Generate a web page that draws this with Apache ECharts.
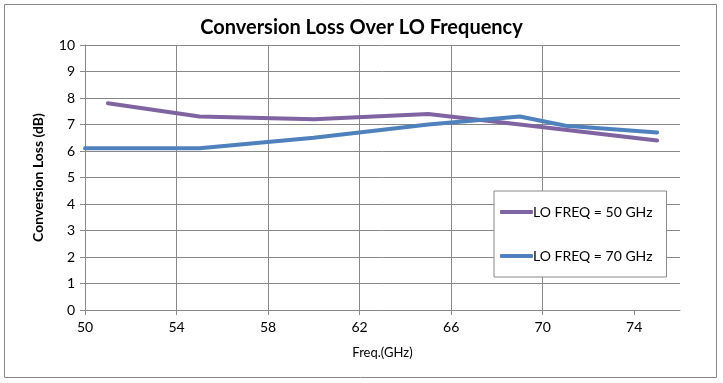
<!DOCTYPE html>
<html><head><meta charset="utf-8">
<script src="https://cdn.jsdelivr.net/npm/echarts@6/dist/echarts.min.js"></script>
<style>html,body{margin:0;padding:0;background:#fff}#c{width:723px;height:383px}</style>
</head><body><div id="c"></div>
<script>
const title = 'Conversion Loss Over LO Frequency';
const xName = 'Freq.(GHz)';
const yName = 'Conversion Loss (dB)';
const seriesNames = ['LO FREQ = 50 GHz', 'LO FREQ = 70 GHz'];
const xTicks = [50, 54, 58, 62, 66, 70, 74];
const freq50 = [51, 55, 60, 65, 69, 75];
const loss50 = [7.8, 7.3, 7.2, 7.4, 7.0, 6.4];
const freq70 = [50, 55, 60, 65, 69, 71, 75];
const loss70 = [6.1, 6.1, 6.5, 7.0, 7.3, 6.95, 6.7];
const colors = ['#8064A2', '#4F81BD'];
const FONT = 'Lato';

const chart = echarts.init(document.getElementById('c'), null, {renderer: 'canvas'});
chart.setOption({
  animation: false,
  title: {text: title, left: 'center', top: 13,
    textStyle: {fontFamily: FONT, fontSize: 20, fontWeight: 'bold', color: '#000'}},
  graphic: [{type: 'rect', shape: {x: 4.5, y: 4.5, width: 712, height: 373},
    style: {fill: null, stroke: '#888', lineWidth: 1}, silent: true}],
  grid: {left: 85, right: 43, top: 45, bottom: 73},
  legend: {
    orient: 'vertical', left: 494, top: 191,
    padding: [14, 14, 14, 6], itemGap: 30,
    backgroundColor: '#fff', borderColor: '#888', borderWidth: 1,
    itemWidth: 33, itemHeight: 4, icon: 'roundRect',
    textStyle: {fontFamily: FONT, fontSize: 14, color: '#000', padding: [0,0,0,-5]},
    data: seriesNames
  },
  xAxis: {type: 'value', min: 50, max: 76, interval: 4,
    name: xName, nameLocation: 'middle', nameGap: 36,
    nameTextStyle: {fontFamily: FONT, fontSize: 13, color: '#000'},
    axisLine: {show: true, lineStyle: {color: '#888'}},
    axisTick: {show: true, length: 5, lineStyle: {color: '#888'}, customValues: xTicks},
    axisLabel: {fontFamily: FONT, fontSize: 14, color: '#000', margin: 10, customValues: xTicks},
    splitLine: {show: true, showMaxLine: false, lineStyle: {color: '#888', width: 1}}},
  yAxis: {type: 'value', min: 0, max: 10, interval: 1,
    name: yName, nameLocation: 'middle', nameGap: 40, nameRotate: 90,
    nameTextStyle: {fontFamily: FONT, fontSize: 14, fontWeight: 'bold', color: '#000'},
    axisLine: {show: true, lineStyle: {color: '#888'}},
    axisTick: {show: true, length: 5, lineStyle: {color: '#888'}},
    axisLabel: {fontFamily: FONT, fontSize: 14, color: '#000', margin: 10},
    splitLine: {show: true, lineStyle: {color: '#888', width: 1}}},
  series: [
    {name: seriesNames[0], type: 'line', data: freq50.map((f, i) => [f, loss50[i]]),
     showSymbol: false, symbol: 'none', color: colors[0],
     lineStyle: {width: 4, color: colors[0], cap: 'round', join: 'round'}},
    {name: seriesNames[1], type: 'line', data: freq70.map((f, i) => [f, loss70[i]]),
     showSymbol: false, symbol: 'none', color: colors[1],
     lineStyle: {width: 4, color: colors[1], cap: 'round', join: 'round'}}
  ]
});
</script></body></html>
